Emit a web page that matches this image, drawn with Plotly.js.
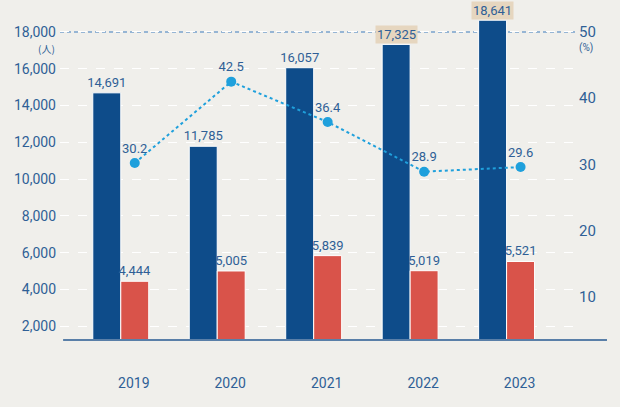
<!DOCTYPE html>
<html>
<head>
<meta charset="utf-8">
<script src="https://cdn.plot.ly/plotly-3.0.1.min.js"></script>
<style>html,body{margin:0;padding:0;background:#f0efeb;}#chart{width:620px;height:407px;}</style>
</head>
<body>
<div id="chart"></div>
<script>
const years = ['2019', '2020', '2021', '2022', '2023'];
const applicants = [14691, 11785, 16057, 17325, 18641];
const hires = [4444, 5005, 5839, 5019, 5521];
const rate = [30.2, 42.5, 36.4, 28.9, 29.6];
const boxedYears = ['2022', '2023'];
const leftTicks = [2000, 4000, 6000, 8000, 10000, 12000, 14000, 16000, 18000];
const rightTicks = [10, 20, 30, 40, 50];

const FONT = 'Roboto, sans-serif';
const TXT = '#2f5f96';
const fmt = v => v.toLocaleString('en-US');

const traces = [
  {
    type: 'bar', x: years, y: applicants,
    marker: {color: '#0e4c8a', line: {color: '#ffffff', width: 1}},
    text: applicants.map((v, i) => boxedYears.includes(years[i]) ? '' : fmt(v)),
    textposition: 'outside', cliponaxis: false, constraintext: 'none',
    textfont: {family: FONT, size: 13, color: TXT},
    hoverinfo: 'skip'
  },
  {
    type: 'bar', x: years, y: hires,
    marker: {color: '#d9534a', line: {color: '#ffffff', width: 1}},
    text: hires.map(fmt), textposition: 'outside', cliponaxis: false, constraintext: 'none',
    textfont: {family: FONT, size: 13, color: TXT},
    hoverinfo: 'skip'
  },
  {
    type: 'scatter', x: years, y: rate, xaxis: 'x2', yaxis: 'y2',
    mode: 'lines+markers+text',
    line: {color: '#1fa0dc', width: 2, dash: 'dot'},
    marker: {color: '#1fa0dc', size: 10},
    text: rate.map(v => v.toFixed(1)), textposition: 'top center',
    textfont: {family: FONT, size: 13, color: TXT},
    cliponaxis: false, hoverinfo: 'skip'
  }
];

const annotations = [];
years.forEach((yr, i) => {
  if (boxedYears.includes(yr)) {
    annotations.push({
      x: i, y: applicants[i], xref: 'x', yref: 'y',
      text: fmt(applicants[i]), showarrow: false,
      xanchor: 'center', yanchor: 'bottom', xshift: -14,
      bgcolor: '#e6d6bf', borderpad: 1,
      font: {family: FONT, size: 13, color: TXT}
    });
  }
});
annotations.push({
  x: 0, y: leftTicks[leftTicks.length - 1], xref: 'paper', yref: 'y',
  text: '(人)', showarrow: false, xanchor: 'right', yanchor: 'top',
  xshift: -3, yshift: -7, font: {family: 'Noto Sans CJK JP, sans-serif', size: 10, color: TXT}
});
annotations.push({
  x: 1, y: rightTicks[rightTicks.length - 1], xref: 'paper', yref: 'y2',
  text: '(%)', showarrow: false, xanchor: 'left', yanchor: 'top',
  xshift: 0, yshift: -8, font: {family: FONT, size: 10, color: TXT}
});

const yMin = 1251, yMax = 19196, ratio = 360;

const layout = {
  width: 620, height: 407,
  margin: {l: 60, r: 43, t: 10, b: 67},
  paper_bgcolor: '#f0efeb', plot_bgcolor: '#f0efeb',
  showlegend: false,
  barmode: 'group', bargap: 0.42, bargroupgap: 0,
  font: {family: FONT, color: TXT},
  xaxis: {
    type: 'category', range: [-0.63, 4.73],
    showgrid: false, zeroline: false, showline: false, ticks: '',
    tickfont: {family: FONT, size: 14, color: TXT},
    ticklabelstandoff: 33, ticklabelshift: 13
  },
  xaxis2: {
    type: 'category', overlaying: 'x', range: [-0.775, 4.585],
    visible: false
  },
  yaxis: {
    range: [yMin, yMax], tickvals: leftTicks, ticktext: leftTicks.map(fmt),
    showgrid: true, gridcolor: '#ffffff', griddash: 'dash', gridwidth: 1,
    zeroline: false, showline: false, ticks: '',
    tickfont: {family: FONT, size: 14, color: TXT},
    ticklabelstandoff: 3
  },
  yaxis2: {
    overlaying: 'y', side: 'right', range: [yMin / ratio, yMax / ratio],
    tickvals: rightTicks, showgrid: false, zeroline: false, showline: false, ticks: '',
    tickfont: {family: FONT, size: 15, color: TXT},
    ticklabelstandoff: 1
  },
  shapes: [
    {type: 'line', xref: 'paper', yref: 'y', x0: 0, x1: 1,
     y0: leftTicks[leftTicks.length - 1], y1: leftTicks[leftTicks.length - 1],
     line: {color: '#3d7cbd', width: 1.2, dash: '4px,3px'}, layer: 'below'},
    {type: 'line', xref: 'paper', yref: 'paper', x0: 0.006, x1: 1.058, y0: 0, y1: 0,
     line: {color: '#5a7fa8', width: 2}, layer: 'above'}
  ],
  annotations: annotations
};

Plotly.newPlot('chart', traces, layout, {displayModeBar: false, staticPlot: true});
</script>
</body>
</html>
